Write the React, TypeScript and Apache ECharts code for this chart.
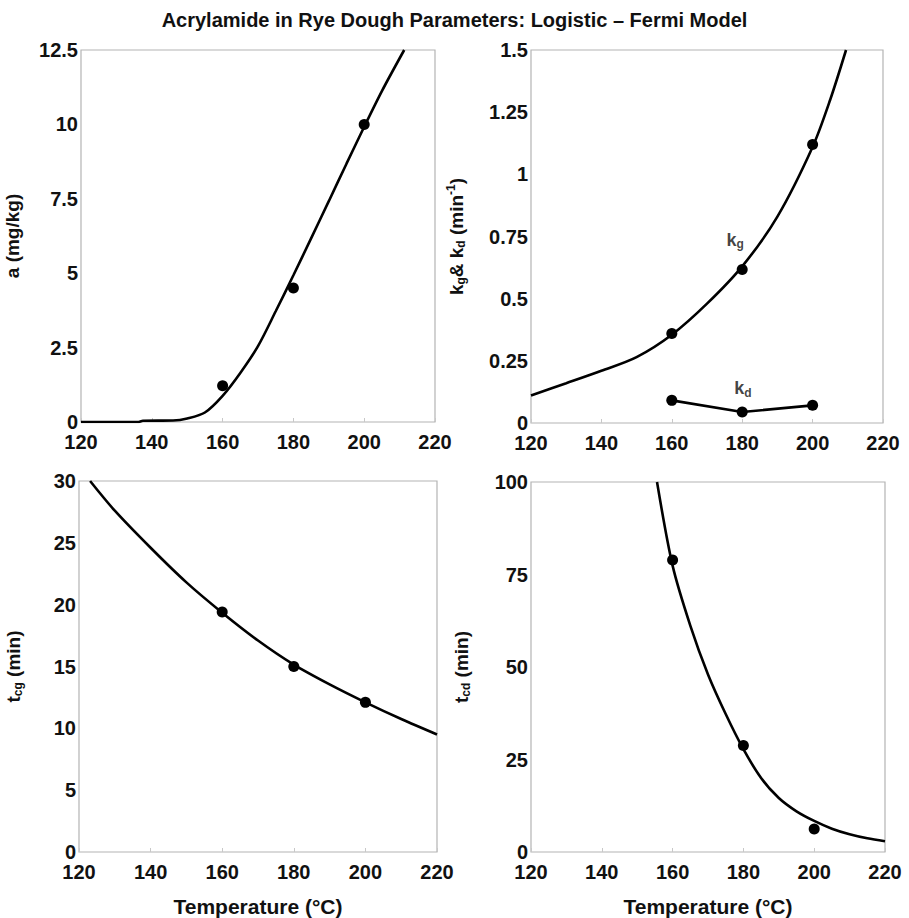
import React, { useEffect, useRef } from "react";
import * as echarts from "echarts";

// Temperatures (°C)
const tempsObs = [160, 180, 200];

// Panel a: a (mg/kg)
const aObs = [1.22, 4.5, 10.0];
const aCurveT = [120, 136, 137.5, 146, 150, 155, 160, 165, 170, 175, 180, 185, 190, 195, 200, 205, 211.3];
const aCurveV = [0, 0, 0.04, 0.05, 0.12, 0.32, 0.88, 1.65, 2.55, 3.72, 4.93, 6.17, 7.42, 8.68, 9.92, 11.12, 12.5];

// Panel b: kg & kd (min^-1)
const kgObs = [0.36, 0.617, 1.12];
const kdObs = [0.091, 0.044, 0.071];
const kgCurveT = [120, 130, 140, 150, 160, 170, 180, 190, 200, 205, 209.5];
const kgCurveV = [0.111, 0.16, 0.21, 0.265, 0.355, 0.48, 0.63, 0.83, 1.11, 1.3, 1.5];

// Panel c: tcg (min)
const tcgObs = [19.4, 15.0, 12.1];
const tcgCurveT = [123.1, 130, 140, 150, 160, 170, 180, 190, 200, 210, 220];
const tcgCurveV = [30, 27.6, 24.6, 21.8, 19.35, 17.1, 15.15, 13.55, 12.1, 10.75, 9.5];

// Panel d: tcd (min)
const tcdObs = [78.9, 28.8, 6.2];
const tcdCurveT = [155.6, 160, 165, 170, 175, 180, 185, 190, 195, 200, 205, 210, 215, 220];
const tcdCurveV = [100, 77.4, 61.2, 48.0, 37.3, 27.8, 20.0, 14.6, 11.0, 8.4, 6.3, 4.8, 3.7, 2.9];

// Tick settings
const xMin = 120, xMax = 220, xStep = 20;
const yAxes = [
  { min: 0, max: 12.5, interval: 2.5 },
  { min: 0, max: 1.5, interval: 0.25 },
  { min: 0, max: 30, interval: 5 },
  { min: 0, max: 100, interval: 25 },
];

const FONT = "'Liberation Sans', Arial, sans-serif";

const zip = (a: number[], b: number[]) => a.map((v, i) => [v, b[i]]);

export default function App() {
  const ref = useRef<HTMLDivElement>(null);
  useEffect(() => {
    if (!ref.current) return;
    const chart = echarts.init(ref.current, null, { renderer: "svg" });

    const grids = [
      { left: 81, top: 50, width: 354, height: 372 },
      { left: 531, top: 50, width: 352, height: 373 },
      { left: 79, top: 481, width: 358, height: 377 },
      { left: 531, top: 482, width: 354, height: 376 },
    ].map((g) => ({ ...g, show: true, borderColor: "#b4b4b4", borderWidth: 1.2, backgroundColor: "#fff" }));

    const nameRich = {
      m: { fontSize: 19, fontWeight: "bold", fontFamily: FONT, color: "#111" },
      s: { fontSize: 12, fontWeight: "bold", fontFamily: FONT, color: "#111", verticalAlign: "bottom", padding: [10, 0, 0, 0] },
      p: { fontSize: 12, fontWeight: "bold", fontFamily: FONT, color: "#111", verticalAlign: "top", padding: [0, 0, 10, 0] },
    };

    const xNames = ["", "", "Temperature (°C)", "Temperature (°C)"];
    const yNames = [
      "{m|a (mg/kg)}",
      "{m|k}{s|g}{m|& k}{s|d}{m| (min}{p|-1}{m|)}",
      "{m|t}{s|cg}{m| (min)}",
      "{m|t}{s|cd}{m| (min)}",
    ];
    const yGaps = [59, 64, 55, 59];

    const xAxis = grids.map((_, i) => ({
      type: "value",
      gridIndex: i,
      min: xMin,
      max: xMax,
      interval: xStep,
      name: xNames[i],
      nameLocation: "middle",
      nameGap: 44,
      nameTextStyle: { fontSize: 21, fontWeight: "bold", fontFamily: FONT, color: "#111" },
      axisLine: { show: false },
      axisTick: { show: true, inside: true, length: 4, lineStyle: { color: "#c8c8c8" } },
      splitLine: { show: false },
      axisLabel: { fontSize: 20, fontWeight: "bold", fontFamily: FONT, color: "#111", margin: 11, lineHeight: 18 },
    }));

    const yAxis = grids.map((_, i) => ({
      type: "value",
      gridIndex: i,
      min: yAxes[i].min,
      max: yAxes[i].max,
      interval: yAxes[i].interval,
      name: yNames[i],
      nameLocation: "middle",
      nameGap: yGaps[i],
      nameTextStyle: { rich: nameRich },
      axisLine: { show: false },
      axisTick: { show: false },
      splitLine: { show: false },
      axisLabel: { fontSize: 20, fontWeight: "bold", fontFamily: FONT, color: "#111", margin: 3, lineHeight: 16 },
    }));

    const curve = (i: number, t: number[], v: number[]) => ({
      type: "line",
      xAxisIndex: i,
      yAxisIndex: i,
      data: zip(t, v),
      smooth: 0.3,
      showSymbol: false,
      lineStyle: { color: "#000", width: 2.6 },
      z: 2,
    });
    const dots = (i: number, v: number[]) => ({
      type: "scatter",
      xAxisIndex: i,
      yAxisIndex: i,
      data: zip(tempsObs, v),
      symbol: "circle",
      symbolSize: 11,
      itemStyle: { color: "#000", opacity: 1 },
      z: 3,
    });
    const labelRich = {
      m: { fontSize: 18, fontWeight: "bold", fontFamily: FONT, color: "#111" },
      s: { fontSize: 12, fontWeight: "bold", fontFamily: FONT, color: "#111", verticalAlign: "bottom", padding: [9, 0, 0, 0] },
    };
    const annot = (i: number, x: number, y: number, text: string) => ({
      type: "scatter",
      xAxisIndex: i,
      yAxisIndex: i,
      data: [[x, y]],
      symbolSize: 0,
      silent: true,
      label: { show: true, position: "inside", formatter: text, rich: labelRich },
      z: 4,
    });

    chart.setOption({
      animation: false,
      backgroundColor: "#fff",
      title: {
        text: "Acrylamide in Rye Dough Parameters: Logistic – Fermi Model",
        left: "center",
        top: 5,
        textStyle: { fontSize: 20, fontWeight: "bold", fontFamily: FONT, color: "#111" },
      },
      grid: grids,
      xAxis,
      yAxis,
      series: [
        curve(0, aCurveT, aCurveV),
        dots(0, aObs),
        curve(1, kgCurveT, kgCurveV),
        dots(1, kgObs),
        {
          type: "line",
          xAxisIndex: 1,
          yAxisIndex: 1,
          data: zip(tempsObs, kdObs),
          symbol: "circle",
          symbolSize: 11,
          itemStyle: { color: "#000", opacity: 1 },
          lineStyle: { color: "#000", width: 2.6 },
        },
        annot(1, 178, 0.736, "{m|k}{s|g}"),
        annot(1, 180.2, 0.14, "{m|k}{s|d}"),
        curve(2, tcgCurveT, tcgCurveV),
        dots(2, tcgObs),
        curve(3, tcdCurveT, tcdCurveV),
        dots(3, tcdObs),
      ],
    });
    return () => chart.dispose();
  }, []);
  return <div ref={ref} style={{ position: "fixed", left: 0, top: 0, width: 909, height: 918, background: "#fff" }} />;
}
